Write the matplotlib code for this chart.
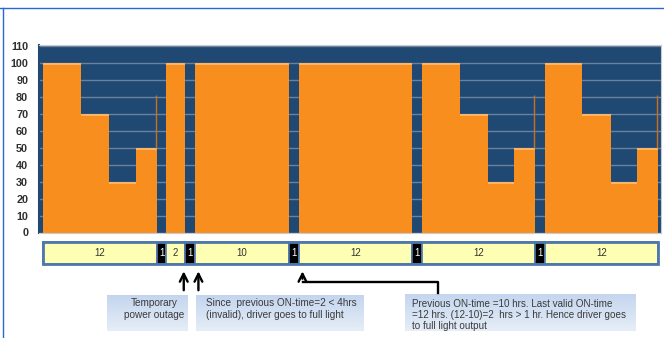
import numpy as np
import matplotlib.pyplot as plt
from matplotlib.lines import Line2D
from matplotlib.patches import Rectangle
from matplotlib.colors import LinearSegmentedColormap

W, H = 664, 338  # output size in pixels (dpi 100)

# =============================================================================
# Data
# =============================================================================
# timeline segments in hours: ON nights and 1 hr OFF days / outages
seg_hours = [12, 1, 2, 1, 10, 1, 12, 1, 12, 1, 12]
seg_labels = ['12', '1', '2', '1', '10', '1', '12', '1', '12', '1', '12']
seg_on = [1, 0, 1, 0, 1, 0, 1, 0, 1, 0, 1]
seg_dimmed = [1, 0, 0, 0, 0, 0, 0, 0, 1, 0, 1]

# dimming profile used in a valid 12 hr night
dim_hours = [4, 3, 2.75, 2.25]
dim_levels = [100, 70, 30, 50]
full_level = 100
spike_level = 81

yticks = list(range(0, 111, 10))

note_outage = "Temporary\npower outage"
note_invalid = "Since  previous ON-time=2 < 4hrs\n(invalid), driver goes to full light"
note_valid = ("Previous ON-time =10 hrs. Last valid ON-time\n"
              "=12 hrs. (12-10)=2  hrs > 1 hr. Hence driver goes\n"
              "to full light output")

# colours
navy = '#1f4872'
orange = '#f78e1e'
orange_top = '#fcb565'
grid_col = '#6a819d'
yellow = '#ffffb4'
cell_edge = '#4d78ad'

plt.rcParams['font.family'] = ['Liberation Sans', 'DejaVu Sans']


def fx(px):
    return px / W


def fy(py):
    return 1 - py / H


fig = plt.figure(figsize=(W / 100, H / 100), dpi=100)

# =============================================================================
# Light output chart
# =============================================================================
ax = fig.add_axes([fx(39.3), fy(232.5), fx(661 - 39.3), (232.5 - 45) / H])
ax.set_facecolor(navy)
ax.set_xlim(-0.42, 65.3)
ax.set_ylim(0, 110.4)
ax.set_yticks(yticks)
ax.set_xticks([])
ax.yaxis.grid(True, color=grid_col, lw=1.0)
ax.set_axisbelow(True)
ax.tick_params(axis='y', length=0, pad=8, labelsize=7.8, labelcolor='#303030')
for lab in ax.get_yticklabels():
    lab.set_fontweight('bold')
for side in ['top', 'right', 'bottom']:
    ax.spines[side].set_color('#c8ccd2')
ax.spines['left'].set_color(navy)
ax.spines['left'].set_linewidth(1.5)

starts = np.concatenate([[0], np.cumsum(seg_hours)[:-1]])
for s, h, on, dim in zip(starts, seg_hours, seg_on, seg_dimmed):
    if not on:
        continue
    if dim:
        x0 = s + np.concatenate([[0], np.cumsum(dim_hours)[:-1]])
        lv = np.array(dim_levels)
        w = dim_hours
    else:
        x0 = np.array([s])
        lv = np.array([full_level])
        w = [h]
    ax.bar(x0, lv, width=w, align='edge', color=orange, lw=0, zorder=2)
    ax.bar(x0, 1.6, bottom=lv - 1.6, width=w, align='edge',
           color=orange_top, lw=0, zorder=3)
    if dim:
        ax.vlines(s + h - 0.1, dim_levels[-1], spike_level,
                  color='#c9701c', lw=1.0, zorder=3)

# =============================================================================
# Hours timeline
# =============================================================================
tl = fig.add_axes([fx(39.3), fy(263.5), fx(661 - 39.3), (263.5 - 241.5) / H])
tl.set_xlim(-0.42, 65.3)
tl.set_ylim(0, 1)
tl.axis('off')
cell_cols = [yellow if on else 'black' for on in seg_on]
tl.bar(starts, 1, width=seg_hours, align='edge', color=cell_cols,
       edgecolor=cell_edge, lw=1.2, clip_on=False)
tl.add_patch(Rectangle((0, 0), sum(seg_hours), 1, fill=False,
                       edgecolor=cell_edge, lw=2.0, clip_on=False))
for s, h, lab, on in zip(starts, seg_hours, seg_labels, seg_on):
    tl.text(s + h / 2, 0.5, lab, ha='center', va='center', fontsize=7,
            color='#333333' if on else 'white')

# =============================================================================
# Notes and arrows
# =============================================================================
box_cmap = LinearSegmentedColormap.from_list('g', ['#c3d5ee', '#e6eef8'])


def note_box(x0, x1, y0, y1):
    bx = fig.add_axes([fx(x0), fy(y1), fx(x1 - x0), (y1 - y0) / H])
    grad = np.linspace(0, 1, 50)[:, None] * np.ones((1, 10))
    bx.imshow(grad, aspect='auto', cmap=box_cmap, extent=[0, 1, 0, 1])
    bx.axis('off')


note_box(107.5, 188.5, 295, 330.5)
note_box(195.5, 363.5, 295, 331)
note_box(405, 636, 294, 331.5)

fig.text(fx(154), fy(309), note_outage, ha='center', va='center',
         fontsize=7.2, color='#3a3a3a', linespacing=1.25)
fig.text(fx(205.5), fy(309), note_invalid, ha='left', va='center',
         fontsize=7.2, color='#3a3a3a', linespacing=1.25)
fig.text(fx(411.5), fy(315), note_valid, ha='left', va='center',
         fontsize=7.1, color='#3a3a3a', linespacing=1.15)

arrow = dict(arrowstyle='->', color='black', lw=1.7, mutation_scale=14)
for hx, ytail in [(14.85, 293), (16.4, 293), (27.4, 281.5)]:
    tl.annotate('', xy=(hx, fy(268.5)), xycoords=('data', 'figure fraction'),
                xytext=(hx, fy(ytail)), textcoords=('data', 'figure fraction'),
                arrowprops=arrow)
fig.add_artist(Line2D([fx(302.7), fx(437.7), fx(437.7)],
                      [fy(281.5), fy(281.5), fy(293)], color='black', lw=1.7))

# figure frame (blue lines at top and left)
fig.add_artist(Line2D([0, 1], [fy(8.3), fy(8.3)], color='#2867d2', lw=1.0))
fig.add_artist(Line2D([fx(3.3), fx(3.3)], [fy(8.3), 0], color='#2867d2', lw=1.0))

fig.savefig('out.png', dpi=100)
